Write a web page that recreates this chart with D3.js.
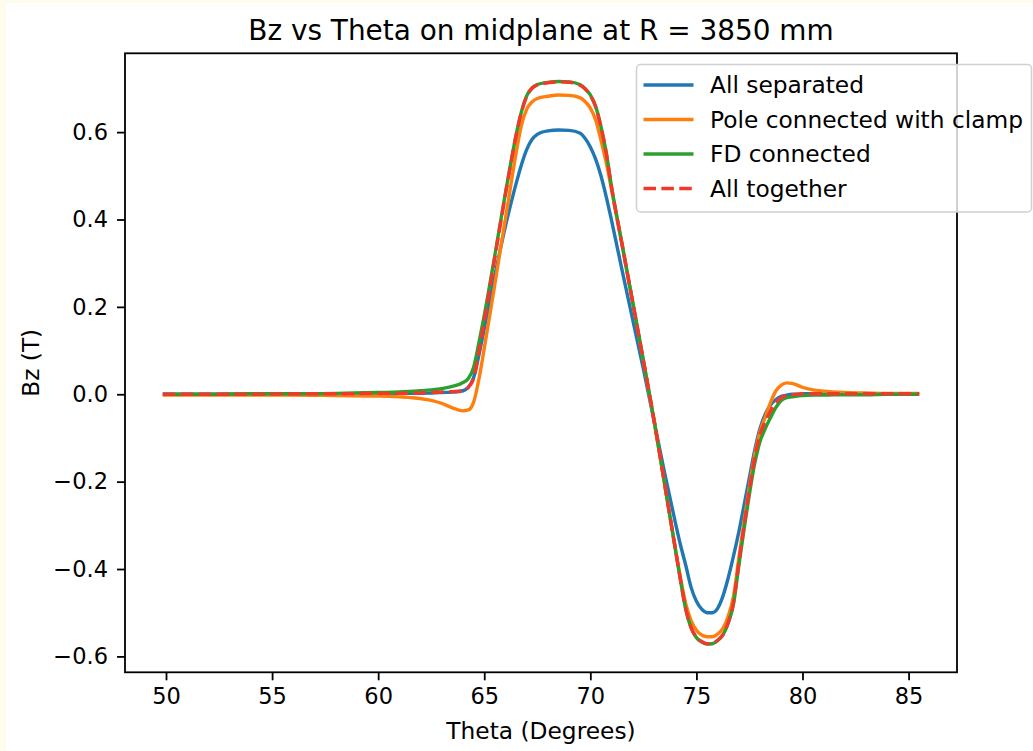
<!DOCTYPE html>
<html lang="en">
<head>
    <meta charset="utf-8">
    <title>Bz vs Theta on midplane</title>
    <script src="https://d3js.org/d3.v7.min.js"></script>
    <style>
        body { margin: 0; background: #fffcec; }
        svg { display: block; }
        text { font-family: 'DejaVu Sans', sans-serif; fill: #000; }
    </style>
</head>
<body>
<svg id="chart"></svg>
<script>
    // Theta sample points (degrees) shared by every series
    const theta = [49.85, 52, 54, 56, 58, 60, 61, 62, 62.5, 63, 63.5, 64, 64.25, 64.5, 64.75, 65,
        65.25, 65.5, 65.75, 66, 66.25, 66.5, 66.75, 67, 67.25, 67.5, 68, 68.5, 69, 69.5, 69.75, 70,
        70.25, 70.5, 70.75, 71, 71.5, 72, 72.5, 73, 73.5, 74, 74.25, 74.5, 74.75, 75, 75.25, 75.5,
        75.75, 76, 76.25, 76.5, 76.75, 77, 77.25, 77.5, 77.75, 78, 78.25, 78.5, 78.75, 79, 79.25,
        79.5, 79.75, 80, 80.5, 81, 82, 83, 84, 85.5];

    // Bz values (T)
    const allSeparated = [0.000, 0.000, 0.000, 0.000, 0.001, 0.001, 0.002, 0.002, 0.003, 0.004, 0.005, 0.008,
        0.016, 0.038, 0.090, 0.150, 0.212, 0.272, 0.330, 0.385, 0.435, 0.482, 0.525, 0.560, 0.583, 0.595,
        0.603, 0.605, 0.604, 0.598, 0.586, 0.566, 0.538, 0.500, 0.452, 0.398, 0.283, 0.170, 0.058, -0.060,
        -0.180, -0.292, -0.345, -0.392, -0.442, -0.474, -0.492, -0.500, -0.500, -0.490, -0.462, -0.420,
        -0.370, -0.315, -0.253, -0.190, -0.128, -0.078, -0.045, -0.024, -0.012, -0.005, -0.002, 0.000,
        0.000, 0.001, 0.001, 0.001, 0.001, 0.001, 0.001, 0.001];

    const poleClamp = [-0.002, -0.002, -0.002, -0.002, -0.003, -0.004, -0.006, -0.010, -0.014, -0.021, -0.031, -0.038,
        -0.036, -0.018, 0.035, 0.105, 0.178, 0.252, 0.328, 0.402, 0.478, 0.552, 0.615, 0.652, 0.669, 0.677,
        0.682, 0.685, 0.684, 0.679, 0.670, 0.655, 0.628, 0.582, 0.530, 0.468, 0.340, 0.208, 0.076, -0.060,
        -0.205, -0.350, -0.420, -0.480, -0.518, -0.540, -0.551, -0.555, -0.555, -0.549, -0.536, -0.508,
        -0.462, -0.375, -0.290, -0.210, -0.138, -0.085, -0.052, -0.018, 0.008, 0.021, 0.026, 0.025,
        0.021, 0.016, 0.010, 0.007, 0.004, 0.003, 0.002, 0.002];

    const fdConnected = [0.000, 0.000, 0.001, 0.001, 0.002, 0.004, 0.005, 0.008, 0.010, 0.013, 0.018, 0.027,
        0.036, 0.062, 0.118, 0.180, 0.248, 0.318, 0.390, 0.461, 0.529, 0.593, 0.646, 0.683, 0.701, 0.709,
        0.714, 0.716, 0.715, 0.709, 0.700, 0.685, 0.659, 0.613, 0.553, 0.475, 0.343, 0.211, 0.078, -0.058,
        -0.205, -0.353, -0.426, -0.493, -0.535, -0.557, -0.567, -0.572, -0.571, -0.564, -0.551, -0.524,
        -0.480, -0.392, -0.308, -0.228, -0.158, -0.108, -0.078, -0.053, -0.030, -0.014, -0.008, -0.006,
        -0.004, -0.003, -0.002, -0.002, -0.001, -0.001, 0.000, 0.000];

    const allTogether = [0.000, 0.000, 0.000, 0.001, 0.001, 0.002, 0.002, 0.003, 0.004, 0.005, 0.006, 0.008,
        0.016, 0.036, 0.098, 0.168, 0.240, 0.313, 0.386, 0.458, 0.527, 0.592, 0.645, 0.682, 0.700, 0.708,
        0.713, 0.715, 0.714, 0.708, 0.699, 0.684, 0.658, 0.612, 0.552, 0.474, 0.342, 0.210, 0.078, -0.058,
        -0.205, -0.352, -0.425, -0.492, -0.534, -0.556, -0.566, -0.571, -0.570, -0.563, -0.550, -0.522,
        -0.476, -0.386, -0.300, -0.218, -0.145, -0.092, -0.062, -0.038, -0.019, -0.008, -0.003, -0.001,
        0.000, 0.001, 0.001, 0.001, 0.001, 0.001, 0.001, 0.001];

    const seriesNames = ['All separated', 'Pole connected with clamp', 'FD connected', 'All together'];
    const seriesValues = [allSeparated, poleClamp, fdConnected, allTogether];
    const seriesColors = ['#1f77b4', '#ff7f0e', '#2ca02c', '#f0392b'];
    const seriesDashed = [false, false, false, true];

    const xTicks = [50, 55, 60, 65, 70, 75, 80, 85];
    const yTicks = [-0.6, -0.4, -0.2, 0.0, 0.2, 0.4, 0.6];

    // Page and plot area
    const WIDTH = 1033, HEIGHT = 751;
    const LEFT = 125, RIGHT = 957, TOP = 53.3, BOTTOM = 672.3;
    const LW = 3.4;          // line width for the curves
    const FONT = 23.3;       // label / legend font size
    const TICK_FONT = 22.5;  // tick label font size
    const DASH = '12.5,5.4';

    const svg = d3.select('#chart')
        .attr('width', WIDTH)
        .attr('height', HEIGHT);

    // white card on the cream page
    svg.append('rect')
        .attr('x', 6).attr('y', 3)
        .attr('width', WIDTH - 6).attr('height', HEIGHT - 3)
        .attr('fill', '#fff');

    // scales with matplotlib-like 5% margins
    const xExt = d3.extent(theta);
    const xPad = (xExt[1] - xExt[0]) * 0.05;
    const yExt = d3.extent(seriesValues.flat());
    const yPad = (yExt[1] - yExt[0]) * 0.05;

    const x = d3.scaleLinear()
        .domain([xExt[0] - xPad, xExt[1] + xPad])
        .range([LEFT, RIGHT]);
    const y = d3.scaleLinear()
        .domain([yExt[0] - yPad, yExt[1] + yPad])
        .range([BOTTOM, TOP]);

    // curves
    const line = d3.line()
        .x(d => x(d[0]))
        .y(d => y(d[1]))
        .curve(d3.curveMonotoneX);

    const plot = svg.append('g').attr('class', 'curves');
    seriesValues.forEach((vals, i) => {
        plot.append('path')
            .datum(theta.map((t, j) => [t, vals[j]]))
            .attr('fill', 'none')
            .attr('stroke', seriesColors[i])
            .attr('stroke-width', LW)
            .attr('stroke-dasharray', seriesDashed[i] ? DASH : null)
            .attr('d', line);
    });

    // axes
    const xAxis = svg.append('g')
        .attr('transform', `translate(0,${BOTTOM})`)
        .call(d3.axisBottom(x).tickValues(xTicks).tickSize(8).tickPadding(8).tickFormat(d3.format('d')));
    const yAxis = svg.append('g')
        .attr('transform', `translate(${LEFT},0)`)
        .call(d3.axisLeft(y).tickValues(yTicks).tickSize(8).tickPadding(9)
            .tickFormat(d => d3.format('.1f')(d).replace('-', '\u2212')));

    [xAxis, yAxis].forEach(ax => {
        ax.select('.domain').remove();
        ax.selectAll('line').attr('stroke', '#000').attr('stroke-width', 1.8);
        ax.selectAll('text').style('font-size', TICK_FONT + 'px').attr('fill', '#000');
    });

    // frame
    svg.append('rect')
        .attr('x', LEFT).attr('y', TOP)
        .attr('width', RIGHT - LEFT).attr('height', BOTTOM - TOP)
        .attr('fill', 'none')
        .attr('stroke', '#000')
        .attr('stroke-width', 1.8);

    // titles
    svg.append('text')
        .attr('x', (LEFT + RIGHT) / 2).attr('y', 40)
        .attr('text-anchor', 'middle')
        .style('font-size', '27.9px')
        .text('Bz vs Theta on midplane at R = 3850 mm');

    svg.append('text')
        .attr('x', (LEFT + RIGHT) / 2).attr('y', 739)
        .attr('text-anchor', 'middle')
        .style('font-size', FONT + 'px')
        .text('Theta (Degrees)');

    svg.append('text')
        .attr('transform', `translate(39,${(TOP + BOTTOM) / 2}) rotate(-90)`)
        .attr('text-anchor', 'middle')
        .style('font-size', FONT + 'px')
        .text('Bz (T)');

    // legend (semi transparent box, sits over the right spine)
    const legend = svg.append('g').attr('transform', 'translate(636.5,64.5)');
    legend.append('rect')
        .attr('width', 395).attr('height', 147.5)
        .attr('rx', 4)
        .attr('fill', 'rgba(255,255,255,0.8)')
        .attr('stroke', '#d0d0d0')
        .attr('stroke-width', 1.5);

    const rows = legend.selectAll('g.row')
        .data(seriesNames)
        .join('g')
        .attr('class', 'row')
        .attr('transform', (d, i) => `translate(0,${20.5 + i * 34.5})`);
    rows.append('line')
        .attr('x1', 7).attr('x2', 57)
        .attr('stroke', (d, i) => seriesColors[i])
        .attr('stroke-width', LW)
        .attr('stroke-dasharray', (d, i) => seriesDashed[i] ? DASH : null);
    rows.append('text')
        .attr('x', 73.5)
        .attr('dy', '0.35em')
        .style('font-size', FONT + 'px')
        .text(d => d);
</script>
</body>
</html>
